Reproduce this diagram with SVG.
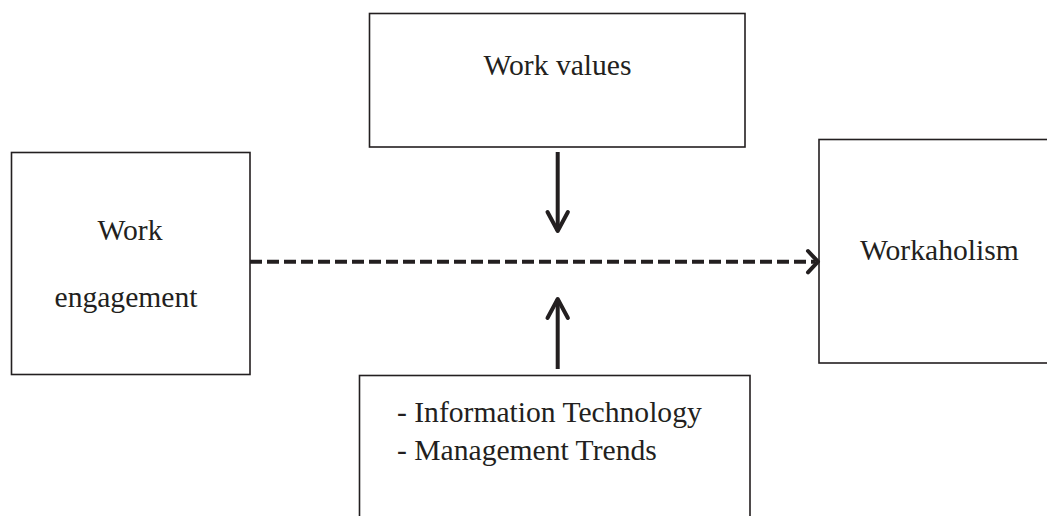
<svg xmlns="http://www.w3.org/2000/svg" width="1047" height="516" viewBox="0 0 1047 516">
<style>
.box{fill:#fff;stroke:#231f20;stroke-width:1.6}
.t{font-family:"Liberation Serif","Times New Roman",serif;font-size:29.6px;fill:#231f20}
.c{stroke:#231f20;stroke-width:4;fill:none}
.h{stroke:#231f20;stroke-width:4;fill:none;stroke-linecap:round;stroke-linejoin:round}
</style>
<rect width="1047" height="516" fill="#fff"/>
<g id="work-values">
<rect class="box" x="369.5" y="13.5" width="375.5" height="133.5"/>
<text class="t" x="557.5" y="75" text-anchor="middle">Work values</text>
</g>
<g id="work-engagement">
<rect class="box" x="11.5" y="152.5" width="238.5" height="222"/>
<text class="t" x="130" y="240" text-anchor="middle">Work</text>
<text class="t" x="126" y="307" text-anchor="middle">engagement</text>
</g>
<g id="workaholism">
<rect class="box" x="819" y="139.5" width="240" height="223.5"/>
<text class="t" x="860" y="260">Workaholism</text>
</g>
<g id="moderators">
<rect class="box" x="359.5" y="375.5" width="390.5" height="160"/>
<text class="t" x="397" y="421.5">- Information Technology</text>
<text class="t" x="397" y="460">- Management Trends</text>
</g>
<g id="connectors">
<line class="c" x1="250" y1="261.7" x2="815" y2="261.7" stroke-dasharray="12 5"/>
<polyline class="h" points="808,251 818,261.7 808,272.4"/>
<line class="c" x1="557.7" y1="152" x2="557.7" y2="231"/>
<polyline class="h" points="547.5,212 557.7,231 567.9,212"/>
<line class="c" x1="557.7" y1="369" x2="557.7" y2="299"/>
<polyline class="h" points="547.5,318 557.7,299 567.9,318"/>
</g>
</svg>
